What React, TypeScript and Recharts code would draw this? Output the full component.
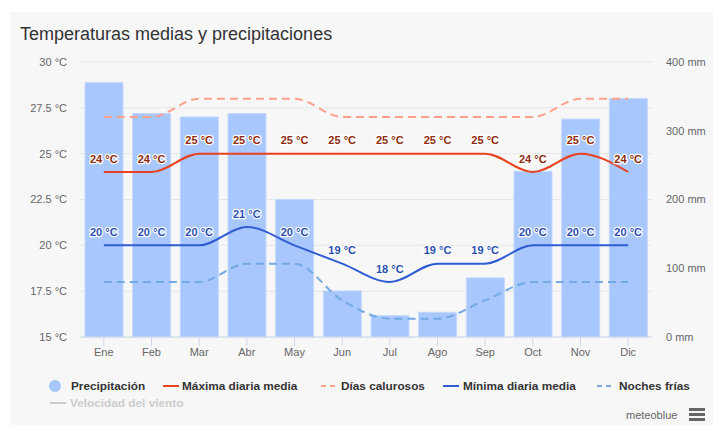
import React from 'react';
import {
    ComposedChart,
    Bar,
    Line,
    XAxis,
    YAxis,
    CartesianGrid,
    LabelList,
} from 'recharts';

const months = ['Ene', 'Feb', 'Mar', 'Abr', 'May', 'Jun', 'Jul', 'Ago', 'Sep', 'Oct', 'Nov', 'Dic'];
const precipitation = [370, 325, 320, 325, 200, 67, 31, 36, 86, 241, 317, 347];
const maxDaily = [24, 24, 25, 25, 25, 25, 25, 25, 25, 24, 25, 24];
const hotDays = [27, 27, 28, 28, 28, 27, 27, 27, 27, 27, 28, 28];
const minDaily = [20, 20, 20, 21, 20, 19, 18, 19, 19, 20, 20, 20];
const coldNights = [18, 18, 18, 19, 19, 17, 16, 16, 17, 18, 18, 18];

const tempTicks = [15, 17.5, 20, 22.5, 25, 27.5, 30];
const precipTicks = [0, 100, 200, 300, 400];

const data = months.map((name, i) => ({
    name,
    precip: precipitation[i],
    max: maxDaily[i],
    hot: hotDays[i],
    min: minDaily[i],
    cold: coldNights[i],
}));

const font = '"Liberation Sans", Arial, sans-serif';

const colors = {
    bar: '#a8c7fd',
    max: '#e8421e',
    hot: '#ffa08c',
    min: '#2f5bd3',
    cold: '#72a9e6',
    maxLabel: '#8f2b0e',
    minLabel: '#2b4fb0',
};

const makeLabel = (fill: string) => (props: any) => {
    const { x, y, value } = props;
    return (
        <text
            x={x}
            y={y - 9.5}
            textAnchor="middle"
            fill={fill}
            fontSize={11}
            fontWeight="bold"
            fontFamily={font}
            stroke="#fff"
            strokeWidth={2.5}
            strokeLinejoin="round"
            paintOrder="stroke"
        >
            {value} °C
        </text>
    );
};

const MaxLabel = makeLabel(colors.maxLabel);
const MinLabel = makeLabel(colors.minLabel);

const legendText: React.CSSProperties = {
    position: 'absolute',
    fontSize: 11.8,
    fontWeight: 'bold',
    color: '#333',
    whiteSpace: 'nowrap',
    lineHeight: '14px',
};

const LineMarker = ({ left, top, color, dashed }: { left: number; top: number; color: string; dashed?: boolean }) => (
    <svg style={{ position: 'absolute', left, top }} width={16} height={4}>
        <line x1={0} y1={2} x2={16} y2={2} stroke={color} strokeWidth={2} strokeDasharray={dashed ? '5 4' : undefined} />
    </svg>
);

export default function App() {
    return (
        <div style={{ position: 'absolute', left: 0, top: 0, width: 713, height: 428, fontFamily: font, background: '#fff' }}>
            <div style={{ position: 'absolute', left: 10, top: 12, width: 703, height: 413, background: '#f7f7f7' }} />
            <div style={{ position: 'absolute', left: 20, top: 24, fontSize: 18, color: '#333', whiteSpace: 'nowrap' }}>
                Temperaturas medias y precipitaciones
            </div>
            <div style={{ position: 'absolute', left: 0, top: 0 }}>
                <ComposedChart width={713} height={428} data={data} margin={{ top: 62, right: 0, left: 0, bottom: 61 }}>
                    <CartesianGrid yAxisId="temp" vertical={false} stroke="#e6e6e6" />
                    <XAxis
                        dataKey="name"
                        height={30}
                        stroke="#ccd6eb"
                        tickSize={9}
                        tickMargin={2}
                        tick={{ fill: '#666', fontSize: 11, fontFamily: font }}
                    />
                    <YAxis
                        yAxisId="temp"
                        width={80}
                        domain={[15, 30]}
                        ticks={tempTicks}
                        axisLine={false}
                        tickLine={false}
                        tickMargin={7}
                        tick={{ fill: '#666', fontSize: 11, fontFamily: font }}
                        tickFormatter={(v) => `${v} °C`}
                    />
                    <YAxis
                        yAxisId="precip"
                        orientation="right"
                        width={61}
                        domain={[0, 400]}
                        ticks={precipTicks}
                        axisLine={false}
                        tickLine={false}
                        tickMargin={8}
                        tick={{ fill: '#666', fontSize: 11, fontFamily: font, textAnchor: 'start' }}
                        tickFormatter={(v) => `${v} mm`}
                    />
                    <Bar yAxisId="precip" dataKey="precip" fill={colors.bar} stroke="#c4d9ff" strokeWidth={1} barSize={38} isAnimationActive={false} />
                    <Line yAxisId="temp" type="monotone" dataKey="hot" stroke={colors.hot} strokeWidth={2} strokeDasharray="8 5" dot={false} activeDot={false} isAnimationActive={false} />
                    <Line yAxisId="temp" type="monotone" dataKey="cold" stroke={colors.cold} strokeWidth={2} strokeDasharray="8 5" dot={false} activeDot={false} isAnimationActive={false} />
                    <Line yAxisId="temp" type="monotone" dataKey="max" stroke={colors.max} strokeWidth={2} dot={false} activeDot={false} isAnimationActive={false}>
                        <LabelList dataKey="max" content={MaxLabel} />
                    </Line>
                    <Line yAxisId="temp" type="monotone" dataKey="min" stroke={colors.min} strokeWidth={2} dot={false} activeDot={false} isAnimationActive={false}>
                        <LabelList dataKey="min" content={MinLabel} />
                    </Line>
                </ComposedChart>
            </div>

            {/* legend */}
            <svg style={{ position: 'absolute', left: 49, top: 380 }} width={12} height={12}>
                <circle cx={6} cy={6} r={6} fill={colors.bar} />
            </svg>
            <span style={{ ...legendText, left: 71, top: 379 }}>Precipitación</span>
            <LineMarker left={163} top={384} color={colors.max} />
            <span style={{ ...legendText, left: 182, top: 379 }}>Máxima diaria media</span>
            <LineMarker left={321} top={384} color={colors.hot} dashed />
            <span style={{ ...legendText, left: 341, top: 379 }}>Días calurosos</span>
            <LineMarker left={443} top={384} color={colors.min} />
            <span style={{ ...legendText, left: 463, top: 379 }}>Mínima diaria media</span>
            <LineMarker left={597} top={384} color={colors.cold} dashed />
            <span style={{ ...legendText, left: 619, top: 379 }}>Noches frías</span>
            <LineMarker left={50} top={401} color="#ccc" />
            <span style={{ ...legendText, left: 70, top: 396, color: '#ccc' }}>Velocidad del viento</span>

            <span style={{ position: 'absolute', left: 626, top: 409, fontSize: 11, color: '#666' }}>meteoblue</span>
            <svg style={{ position: 'absolute', left: 689, top: 408 }} width={16} height={14}>
                <rect x={0} y={0} width={16} height={3} fill="#666" />
                <rect x={0} y={5} width={16} height={3} fill="#666" />
                <rect x={0} y={10} width={16} height={3} fill="#666" />
            </svg>
        </div>
    );
}
